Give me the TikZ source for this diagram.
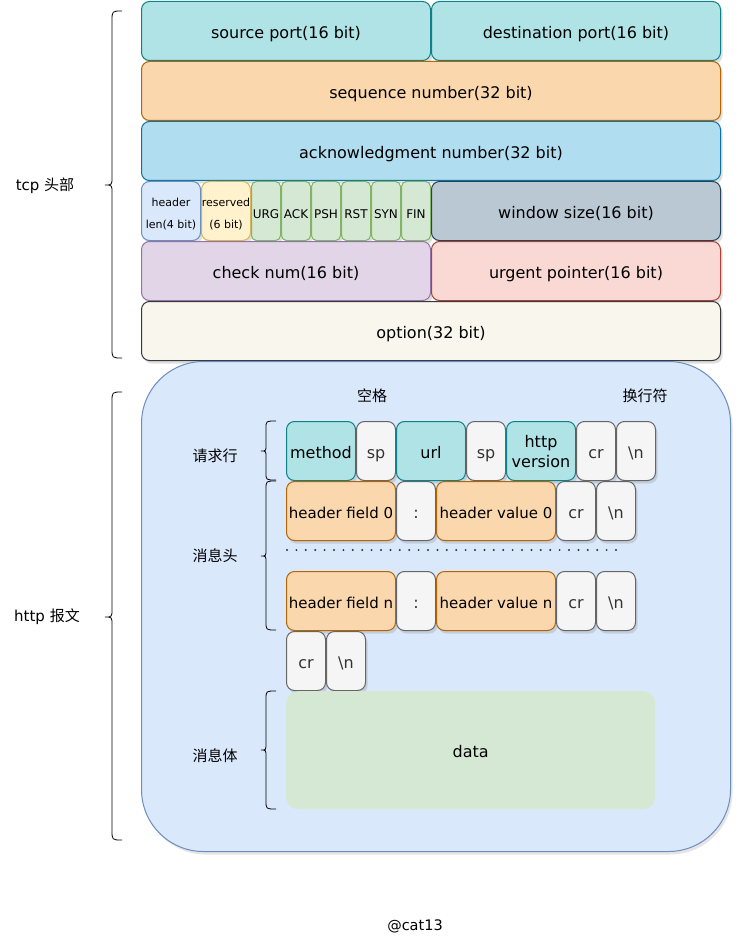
\documentclass[tikz,border=0pt]{standalone}
\usepackage{fontspec}
\setmainfont{DejaVu Sans}
\newfontfamily\cjk{Noto Sans CJK SC}
\usetikzlibrary{shadows}
\definecolor{tealF}{HTML}{B0E3E6}\definecolor{tealS}{HTML}{0E8088}
\definecolor{orgF}{HTML}{FAD7AC}\definecolor{orgS}{HTML}{B46504}
\definecolor{bluF}{HTML}{B1DDF0}\definecolor{bluS}{HTML}{10739E}
\definecolor{lbF}{HTML}{DAE8FC}\definecolor{lbS}{HTML}{6C8EBF}
\definecolor{yelF}{HTML}{FFF2CC}\definecolor{yelS}{HTML}{D6B656}
\definecolor{grnF}{HTML}{D5E8D4}\definecolor{grnS}{HTML}{82B366}
\definecolor{gryF}{HTML}{BAC8D3}\definecolor{gryS}{HTML}{23445D}
\definecolor{purF}{HTML}{E1D5E7}\definecolor{purS}{HTML}{9673A6}
\definecolor{redF}{HTML}{FAD9D5}\definecolor{redS}{HTML}{AE4132}
\definecolor{offF}{HTML}{F9F7ED}\definecolor{offS}{HTML}{36393D}
\definecolor{spF}{HTML}{F5F5F5}\definecolor{spS}{HTML}{666666}
\newcommand\twoline[2]{\raisebox{-2pt}[\height][\depth]{\begin{tabular}{@{}c@{}}#1\\#2\end{tabular}}}
\tikzset{
  box/.style={draw, line width=1pt, rounded corners=8pt, anchor=north west, inner sep=0pt,
    align=center, font=\fontsize{16}{20}\selectfont, text height=15pt, text depth=0pt,
    drop shadow={opacity=0.25, shadow xshift=2pt, shadow yshift=-3pt}},
  multi/.style={text height=, text depth=},
  flag/.style={box, fill=grnF, draw=grnS, rounded corners=5pt, font=\fontsize{12}{14}\selectfont},
  small/.style={multi, font=\fontsize{11}{22}\selectfont},
  hfont/.style={font=\fontsize{15}{18}\selectfont},
  gbox/.style={box, fill=spF, draw=spS, text=black!80},
  lbl/.style={font=\fontsize{15}{18}\selectfont, anchor=center},
  brc/.style={draw, line width=0.8pt},
}
\begin{document}
\begin{tikzpicture}[x=1pt, y=-1pt]
\useasboundingbox[fill=white] (0,0) rectangle (742,952);
% ---------------- TCP header ----------------
\node[box, fill=tealF, draw=tealS, minimum width=289, minimum height=59] (src) at (141,1) {source port(16 bit)};
\node[box, fill=tealF, draw=tealS, minimum width=289, minimum height=59] (dst) at (431,1) {destination port(16 bit)};
\node[box, fill=orgF, draw=orgS, minimum width=579, minimum height=59] (seq) at (141,61) {sequence number(32 bit)};
\node[box, fill=bluF, draw=bluS, minimum width=579, minimum height=59] (ack) at (141,121) {acknowledgment number(32 bit)};
\node[box, fill=lbF, draw=lbS, minimum width=59, minimum height=59, small] (hl) at (141,181) {\twoline{header}{len(4 bit)}};
\node[box, fill=yelF, draw=yelS, minimum width=49, minimum height=59, small] (rsv) at (201,181) {\twoline{reserved}{(6 bit)}};
\node[flag, minimum width=29, minimum height=59] (urg) at (251,181) {URG};
\node[flag, minimum width=29, minimum height=59] (fack) at (281,181) {ACK};
\node[flag, minimum width=29, minimum height=59] (psh) at (311,181) {PSH};
\node[flag, minimum width=29, minimum height=59] (rst) at (341,181) {RST};
\node[flag, minimum width=29, minimum height=59] (syn) at (371,181) {SYN};
\node[flag, minimum width=29, minimum height=59] (fin) at (401,181) {FIN};
\node[box, fill=gryF, draw=gryS, minimum width=289, minimum height=59] (win) at (431,181) {window size(16 bit)};
\node[box, fill=purF, draw=purS, minimum width=289, minimum height=59] (chk) at (141,241) {check num(16 bit)};
\node[box, fill=redF, draw=redS, minimum width=289, minimum height=59] (urp) at (431,241) {urgent pointer(16 bit)};
\node[box, fill=offF, draw=offS, minimum width=579, minimum height=59] (opt) at (141,301) {option(32 bit)};
% tcp brace
\draw[brc] (122,11) .. controls (112,11) .. (112,21) -- (112,177)
  .. controls (112,185) .. (105,185) .. controls (112,185) .. (112,193)
  -- (112,348) .. controls (112,358) .. (122,358);
\node[lbl] (tcpL) at (45,186) {tcp {\cjk 头部}};
% ---------------- HTTP ----------------
\node[draw=lbS, fill=lbF, line width=1pt, rounded corners=62pt, anchor=north west,
      minimum width=589, minimum height=490,
      drop shadow={opacity=0.2, shadow xshift=2pt, shadow yshift=-3pt}] (http) at (141,361) {};
\draw[brc] (122,392) .. controls (112,392) .. (112,402) -- (112,609)
  .. controls (112,617) .. (105,617) .. controls (112,617) .. (112,625)
  -- (112,830) .. controls (112,840) .. (122,840);
\node[lbl] (htL) at (47,617) {http {\cjk 报文}};
\node[lbl] (kg) at (372,396) {\cjk 空格};
\node[lbl] (hh) at (645,396) {\cjk 换行符};
% request line
\node[box, fill=tealF, draw=tealS, minimum width=69, minimum height=59] (meth) at (286,421) {method};
\node[gbox, minimum width=39, minimum height=59] (sp1) at (356,421) {sp};
\node[box, fill=tealF, draw=tealS, minimum width=69, minimum height=59] (url) at (396,421) {url};
\node[gbox, minimum width=39, minimum height=59] (sp2) at (466,421) {sp};
\node[box, fill=tealF, draw=tealS, minimum width=69, minimum height=59, multi] (ver) at (506,421) {\twoline{http}{version}};
\node[gbox, minimum width=39, minimum height=59] (cr1) at (576,421) {cr};
\node[gbox, minimum width=39, minimum height=59] (nl1) at (616,421) {\textbackslash n};
\draw[brc] (276,421) .. controls (266,421) .. (266,428) -- (266,445)
  .. controls (266,451) .. (261,451) .. controls (266,451) .. (266,457)
  -- (266,473) .. controls (266,480) .. (276,480);
\node[lbl] (rqL) at (215,456) {\cjk 请求行};
% header 0
\node[box, fill=orgF, draw=orgS, minimum width=109, minimum height=59, hfont] (hf0) at (286,481) {header field 0};
\node[gbox, minimum width=39, minimum height=59] (col0) at (396,481) {:};
\node[box, fill=orgF, draw=orgS, minimum width=119, minimum height=59, hfont] (hv0) at (436,481) {header value 0};
\node[gbox, minimum width=39, minimum height=59] (cr2) at (556,481) {cr};
\node[gbox, minimum width=39, minimum height=59] (nl2) at (596,481) {\textbackslash n};
\coordinate (dotL) at (287,550);
\coordinate (dotR) at (625,550);
\draw[line width=2.2pt, line cap=round, dash pattern=on 0pt off 9.4pt, black!80] (dotL) -- (dotR);
% header n
\node[box, fill=orgF, draw=orgS, minimum width=109, minimum height=59, hfont] (hfn) at (286,571) {header field n};
\node[gbox, minimum width=39, minimum height=59] (coln) at (396,571) {:};
\node[box, fill=orgF, draw=orgS, minimum width=119, minimum height=59, hfont] (hvn) at (436,571) {header value n};
\node[gbox, minimum width=39, minimum height=59] (cr3) at (556,571) {cr};
\node[gbox, minimum width=39, minimum height=59] (nl3) at (596,571) {\textbackslash n};
\draw[brc] (276,481) .. controls (266,481) .. (266,489) -- (266,549)
  .. controls (266,556) .. (261,556) .. controls (266,556) .. (266,563)
  -- (266,622) .. controls (266,630) .. (276,630);
\node[lbl] (hdL) at (215,556) {\cjk 消息头};
% empty line
\node[gbox, minimum width=39, minimum height=59] (cr4) at (286,631) {cr};
\node[gbox, minimum width=39, minimum height=59] (nl4) at (326,631) {\textbackslash n};
% body
\node[fill=grnF, rounded corners=12pt, anchor=north west, minimum width=369, minimum height=118,
      font=\fontsize{16}{20}\selectfont, text height=15pt, text depth=0pt] (data) at (286,691) {data};
\draw[brc] (276,691) .. controls (266,691) .. (266,699) -- (266,743)
  .. controls (266,750) .. (261,750) .. controls (266,750) .. (266,757)
  -- (266,801) .. controls (266,809) .. (276,809);
\node[lbl] (bdL) at (215,756) {\cjk 消息体};
\node[lbl, font=\fontsize{14.5}{18}\selectfont] (sig) at (415,926) {@cat13};
\end{tikzpicture}
\end{document}
